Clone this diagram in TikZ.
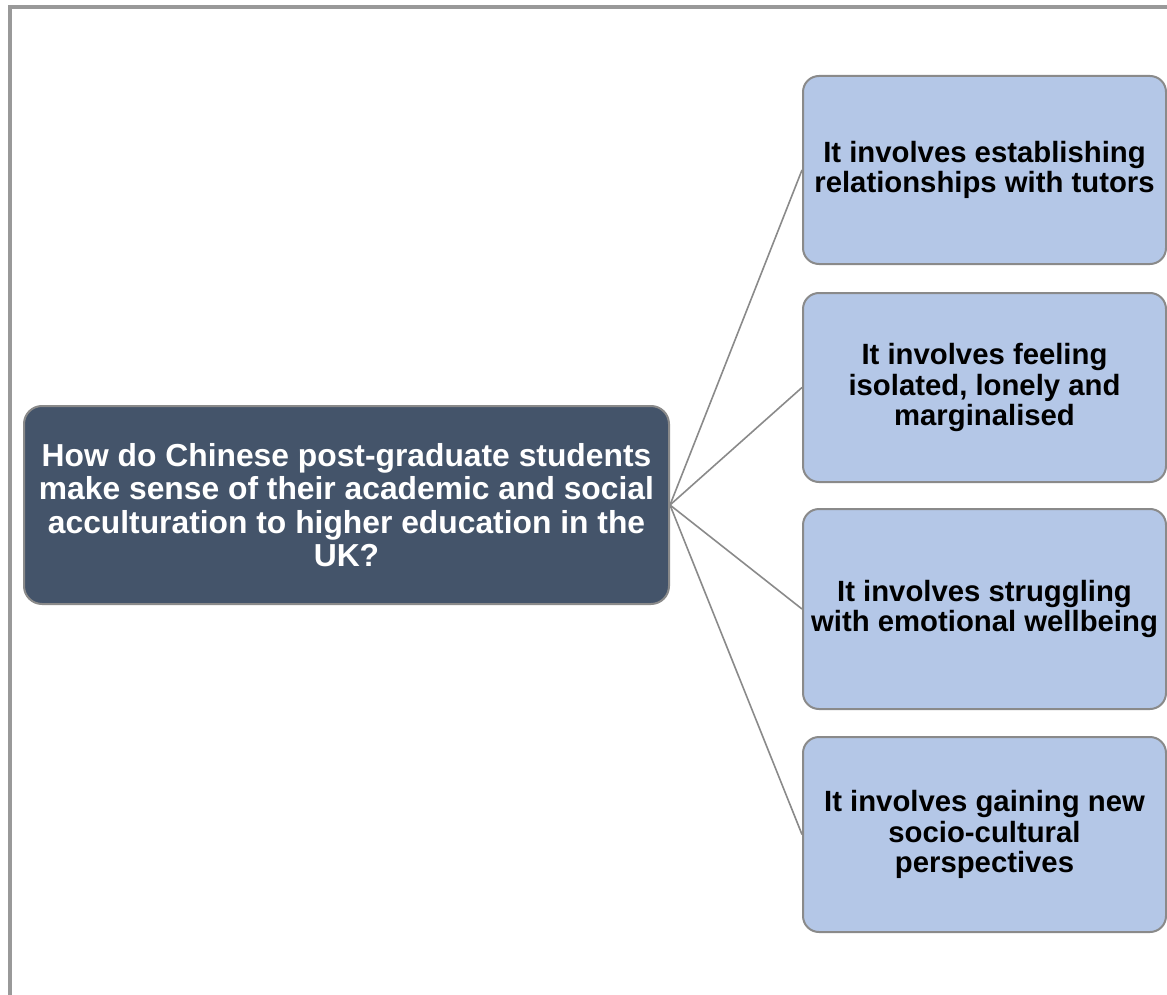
\documentclass[tikz,border=0pt]{standalone}
\usepackage{fontspec}
\setmainfont{Liberation Sans}
\definecolor{framegray}{HTML}{999999}
\definecolor{edgegray}{HTML}{8A8A8A}
\definecolor{slate}{HTML}{44546A}
\definecolor{paleblue}{HTML}{B4C7E7}
\tikzset{
  question/.style={draw=edgegray, line width=2pt, fill=slate, rounded corners=18pt,
    text=white, align=center, font=\bfseries\fontsize{31.8}{33.3}\selectfont,
    minimum width=645pt, minimum height=198pt, inner sep=0pt},
  theme/.style={draw=edgegray, line width=2pt, fill=paleblue, rounded corners=16pt,
    text=black, align=center, font=\bfseries\fontsize{29.3}{30.3}\selectfont,
    minimum width=363pt, inner sep=0pt},
  link/.style={draw=edgegray, line width=1.6pt},
  frame/.style={draw=framegray, line width=4pt}
}
\begin{document}
\begin{tikzpicture}[x=1pt,y=-1pt]
  \useasboundingbox (0,0) rectangle (1167,995);
  % outer frame (top and left edges)
  \coordinate (ftop) at (1167,7.5);
  \coordinate (fcorner) at (10,7.5);
  \coordinate (fbottom) at (10,995);
  \draw[frame] (ftop) -- (fcorner) -- (fbottom);

  % central question
  \node[question] (q) at (346.5,505) {How do Chinese post-graduate students\\make sense of their academic and social\\acculturation to higher education in the\\UK?};

  % themes
  \node[theme, minimum height=188pt] (t1) at (984.5,170) {It involves establishing\\relationships with tutors};
  \node[theme, minimum height=189pt] (t2) at (984.5,387.5) {It involves feeling\\isolated, lonely and\\marginalised};
  \node[theme, minimum height=200pt] (t3) at (984.5,609) {It involves struggling\\with emotional wellbeing};
  \node[theme, minimum height=195pt] (t4) at (984.5,834.5) {It involves gaining new\\socio-cultural\\perspectives};

  % connectors
  \foreach \t in {t1,t2,t3,t4}
    \draw[link] (q.east) -- (\t.west);
\end{tikzpicture}
\end{document}
